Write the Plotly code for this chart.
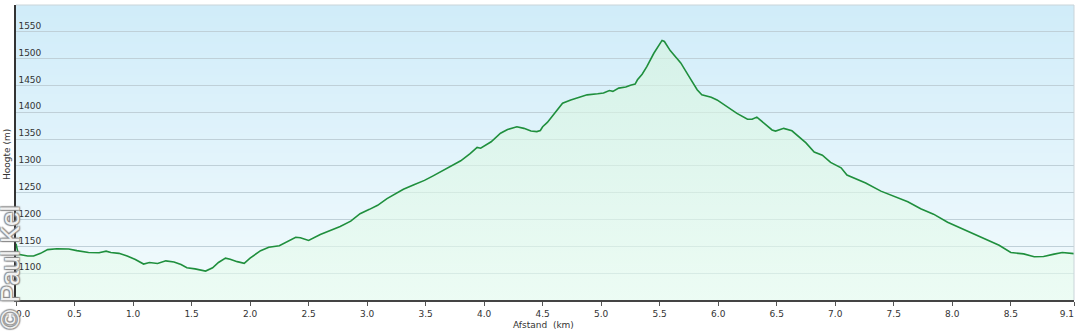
import base64
import struct
import zlib

import plotly.graph_objects as go

# ---------------- data ----------------
distance_km = [
    0.00, 0.02, 0.10, 0.15, 0.21, 0.27, 0.35, 0.45, 0.52, 0.62, 0.71, 0.77, 0.81, 0.88,
    0.95, 1.02, 1.09, 1.14, 1.21, 1.28, 1.35, 1.41, 1.46, 1.53, 1.62, 1.68, 1.73, 1.79,
    1.83, 1.89, 1.95, 2.00, 2.09, 2.16, 2.25, 2.32, 2.39, 2.43, 2.50, 2.60, 2.69, 2.77,
    2.86, 2.94, 3.02, 3.09, 3.17, 3.24, 3.31, 3.40, 3.49, 3.56, 3.64, 3.71, 3.80, 3.88,
    3.94, 3.97, 4.06, 4.14, 4.20, 4.28, 4.34, 4.40, 4.45, 4.48, 4.50, 4.54, 4.60, 4.67,
    4.74, 4.80, 4.88, 4.97, 5.02, 5.07, 5.10, 5.15, 5.21, 5.25, 5.29, 5.31, 5.35, 5.39,
    5.45, 5.52, 5.54, 5.59, 5.68, 5.75, 5.82, 5.86, 5.94, 5.99, 6.08, 6.16, 6.25, 6.29,
    6.33, 6.39, 6.46, 6.49, 6.56, 6.63, 6.71, 6.75, 6.82, 6.89, 6.96, 7.05, 7.10, 7.19,
    7.26, 7.39, 7.50, 7.62, 7.73, 7.84, 7.96, 8.10, 8.24, 8.40, 8.50, 8.61, 8.70, 8.78,
    8.87, 8.94, 9.04,
]
elevation_m = [
    1155, 1135, 1132, 1132, 1137, 1144, 1145.5, 1145, 1142, 1138.5, 1138, 1141, 1138.5, 1137,
    1132, 1125.5, 1117, 1120, 1118, 1123, 1121, 1116, 1110, 1108, 1104, 1110, 1120, 1128,
    1126, 1121.5, 1118.5, 1128, 1142, 1148.5, 1151, 1159, 1167, 1166, 1161, 1172, 1180, 1187,
    1197, 1211, 1219, 1226.5, 1239, 1247, 1256.5, 1265, 1273, 1281, 1290, 1298, 1309.5, 1323,
    1334.5, 1333, 1345, 1361, 1368, 1373, 1370, 1365, 1364, 1366, 1373, 1381, 1397, 1417,
    1423, 1427.5, 1432.5, 1434.5, 1436, 1440.5, 1439, 1445, 1447, 1450.5, 1452.5, 1460.5, 1471, 1485,
    1510, 1534, 1532, 1515, 1492, 1467, 1442, 1432.5, 1428, 1423, 1409.5, 1398, 1387, 1387,
    1391, 1379.5, 1367, 1365, 1370, 1365.5, 1350, 1343, 1326, 1320, 1306.5, 1296.5, 1283, 1274.5,
    1268, 1253, 1244, 1233, 1220, 1210, 1195, 1181, 1167, 1152, 1138.5, 1136, 1130.5, 1131,
    1135.5, 1138.5, 1136.5,
]

x_tick_values = [0.0, 0.5, 1.0, 1.5, 2.0, 2.5, 3.0, 3.5, 4.0, 4.5, 5.0, 5.5, 6.0, 6.5,
                 7.0, 7.5, 8.0, 8.5, 9.04]
x_tick_labels = ["0.0", "0.5", "1.0", "1.5", "2.0", "2.5", "3.0", "3.5", "4.0", "4.5",
                 "5.0", "5.5", "6.0", "6.5", "7.0", "7.5", "8.0", "8.5", "9.1"]
y_tick_values = [1100, 1150, 1200, 1250, 1300, 1350, 1400, 1450, 1500, 1550]
x_range = [0, 9.04]
y_range = [1050, 1600]

# first label is left-aligned on its tick, last one right-aligned (padding with nbsp)
PAD = "\u00a0" * 5
x_tick_text = list(x_tick_labels)
x_tick_text[0] = PAD + x_tick_text[0]
x_tick_text[-1] = x_tick_text[-1] + PAD


# ---------------- background gradient image ----------------
def gradient_png(top, bottom, h=256):
    rows = b""
    for i in range(h):
        t = i / (h - 1)
        rgb = [round(top[k] + (bottom[k] - top[k]) * t) for k in range(3)]
        rows += b"\x00" + bytes(rgb)

    def chunk(tag, data):
        c = struct.pack(">I", len(data)) + tag + data
        return c + struct.pack(">I", zlib.crc32(tag + data) & 0xFFFFFFFF)

    png = (b"\x89PNG\r\n\x1a\n"
           + chunk(b"IHDR", struct.pack(">IIBBBBB", 1, h, 8, 2, 0, 0, 0))
           + chunk(b"IDAT", zlib.compress(rows))
           + chunk(b"IEND", b""))
    return "data:image/png;base64," + base64.b64encode(png).decode()


bg_src = gradient_png((208, 236, 249), (243, 251, 253))

FONT = "DejaVu Sans, Verdana, sans-serif"

fig = go.Figure()
fig.add_trace(go.Scatter(
    x=distance_km, y=elevation_m, mode="lines",
    line=dict(color="#1f8f3d", width=1.6),
    fill="tozeroy",
    fillgradient=dict(
        type="vertical",
        colorscale=[[0, "rgba(232,252,238,0.62)"], [1, "rgba(214,244,222,0.62)"]],
        start=1050, stop=1540,
    ),
    hoverinfo="x+y", showlegend=False,
))

fig.update_layout(
    width=1080, height=333,
    margin=dict(l=16, r=6, t=5, b=33, autoexpand=False),
    paper_bgcolor="white",
    plot_bgcolor="rgba(0,0,0,0)",
    font=dict(family=FONT, size=9, color="#333333"),
    images=[dict(source=bg_src, xref="x domain", yref="y domain", x=0, y=1,
                 sizex=1, sizey=1, sizing="stretch", xanchor="left", yanchor="top",
                 layer="below")],
    xaxis=dict(
        range=x_range, tickvals=x_tick_values, ticktext=x_tick_text,
        automargin=False,
        ticks="outside", ticklen=4, tickcolor="#555555", tickwidth=1,
        ticklabeloverflow="allow",
        showgrid=False, zeroline=False,
        showline=True, linecolor="#444444", linewidth=1.5,
        tickfont=dict(size=9, color="#333333"),
    ),
    yaxis=dict(
        range=y_range, tickvals=y_tick_values,
        automargin=False,
        ticklabelposition="outside", ticklabelshift=-6, ticklabelstandoff=-29,
        ticks="", showgrid=True, gridcolor="#bfd0d8", gridwidth=1.2,
        zeroline=False, showline=True, linecolor="#333333", linewidth=1.8,
        tickfont=dict(size=9, color="#333333"),
    ),
    shapes=[dict(type="path", xref="paper", yref="paper",
                 path="M 0 1 L 1 1 L 1 0", line=dict(color="#c9d4d9", width=1),
                 layer="above")],
    annotations=[
        dict(text="Hoogte (m)", xref="paper", yref="paper", x=-9 / 1058, y=145 / 295,
             xanchor="center", yanchor="middle", textangle=-90, showarrow=False,
             font=dict(size=9, color="#333333")),
        dict(text="Afstand\u00a0 (km)", xref="paper", yref="paper", x=527 / 1058, y=-25 / 295,
             xanchor="center", yanchor="middle", showarrow=False,
             font=dict(size=9, color="#333333")),
        dict(text="© Paul Kel", xref="paper", yref="paper", x=-6 / 1058, y=32 / 295,
             xanchor="center", yanchor="middle", textangle=-90, showarrow=False,
             font=dict(family="Liberation Sans, Arial, sans-serif", size=26,
                       color="rgba(255,255,255,0.9)",
                       shadow="1px 1px 1px #8a8a8a, -1px -1px 1px #8a8a8a, 1px -1px 1px #8a8a8a, -1px 1px 1px #8a8a8a")),
    ],
)

fig.write_html("out.html")
